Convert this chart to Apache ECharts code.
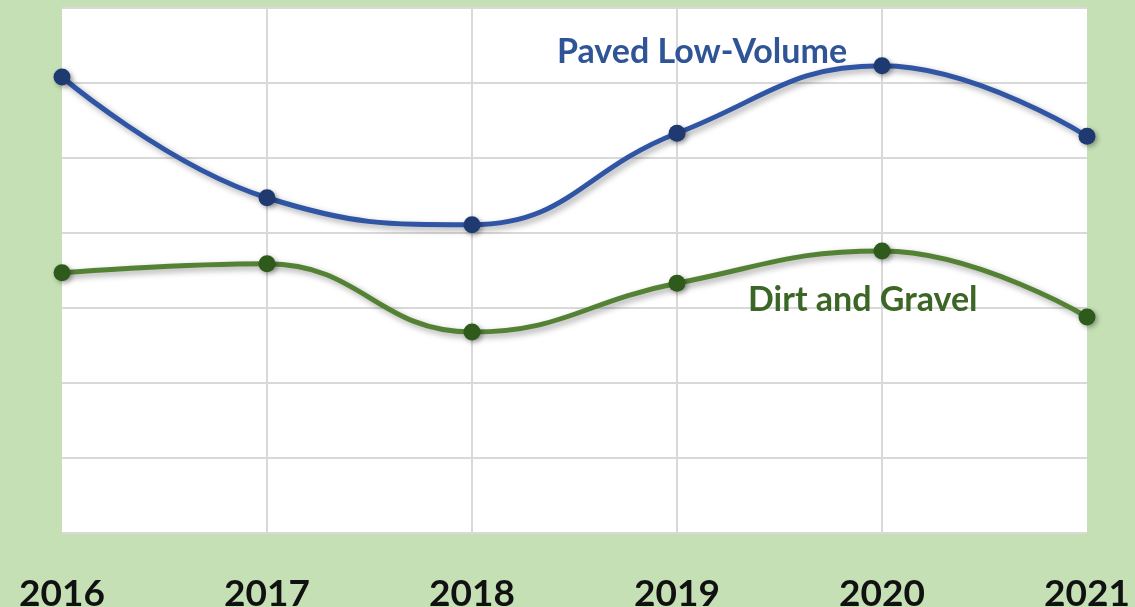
<!DOCTYPE html>
<html>
<head>
<meta charset="utf-8">
<script src="https://cdn.jsdelivr.net/npm/echarts@6/dist/echarts.min.js"></script>
<style>
  html, body { margin: 0; padding: 0; background: #c5e0b4; }
  #draw { width: 1135px; height: 607px; }
</style>
</head>
<body>
<div id="draw"></div>
<script>
  // years along the bottom
  var years = ['2016', '2017', '2018', '2019', '2020', '2021'];
  // values (unlabelled scale, 0..7 grid units)
  var paved = [6.08, 4.47, 4.11, 5.33, 6.23, 5.29];
  var dirt = [3.47, 3.59, 2.68, 3.33, 3.76, 2.88];

  var chart = echarts.init(document.getElementById('draw'));

  function lineSeries(name, data, lineColor, dotColor) {
    return {
      name: name,
      type: 'line',
      data: data,
      smooth: 0.45,
      symbol: 'circle',
      symbolSize: 17,
      lineStyle: {
        color: lineColor,
        width: 5,
        shadowColor: 'rgba(0,0,0,0.35)',
        shadowBlur: 6,
        shadowOffsetX: 3,
        shadowOffsetY: 3
      },
      itemStyle: {
        color: dotColor,
        shadowColor: 'rgba(0,0,0,0.35)',
        shadowBlur: 5,
        shadowOffsetX: 2,
        shadowOffsetY: 2
      },
      z: 3
    };
  }

  chart.setOption({
    backgroundColor: '#c5e0b4',
    animation: false,
    grid: {
      left: 62,
      right: 48,
      top: 8,
      bottom: 74,
      outerBoundsMode: 'none',
      containLabel: false,
      show: true,
      backgroundColor: '#ffffff',
      borderWidth: 0
    },
    xAxis: {
      type: 'category',
      data: years,
      boundaryGap: false,
      axisLine: { show: false },
      axisTick: { show: false },
      axisLabel: {
        color: '#111',
        fontFamily: 'Lato',
        fontWeight: 'bold',
        fontSize: 37,
        margin: 43
      },
      splitLine: {
        show: true,
        showMinLine: false,
        showMaxLine: false,
        lineStyle: { color: '#d9d9d9', width: 2 }
      }
    },
    yAxis: {
      type: 'value',
      min: 0,
      max: 7,
      interval: 1,
      axisLine: { show: false },
      axisTick: { show: false },
      axisLabel: { show: false },
      splitLine: {
        lineStyle: { color: '#d9d9d9', width: 2 }
      }
    },
    graphic: [
      {
        type: 'text',
        left: 557,
        top: 35,
        style: {
          text: 'Paved Low-Volume',
          fill: '#2f5597',
          font: 'bold 34px Lato'
        },
        z: 10
      },
      {
        type: 'text',
        left: 748,
        top: 283,
        style: {
          text: 'Dirt and Gravel',
          fill: '#3b6625',
          font: 'bold 34px Lato'
        },
        z: 10
      }
    ],
    series: [
      lineSeries('Paved Low-Volume', paved, '#2f55a4', '#1f3a70'),
      lineSeries('Dirt and Gravel', dirt, '#548235', '#2e5a1c')
    ]
  });
</script>
</body>
</html>
